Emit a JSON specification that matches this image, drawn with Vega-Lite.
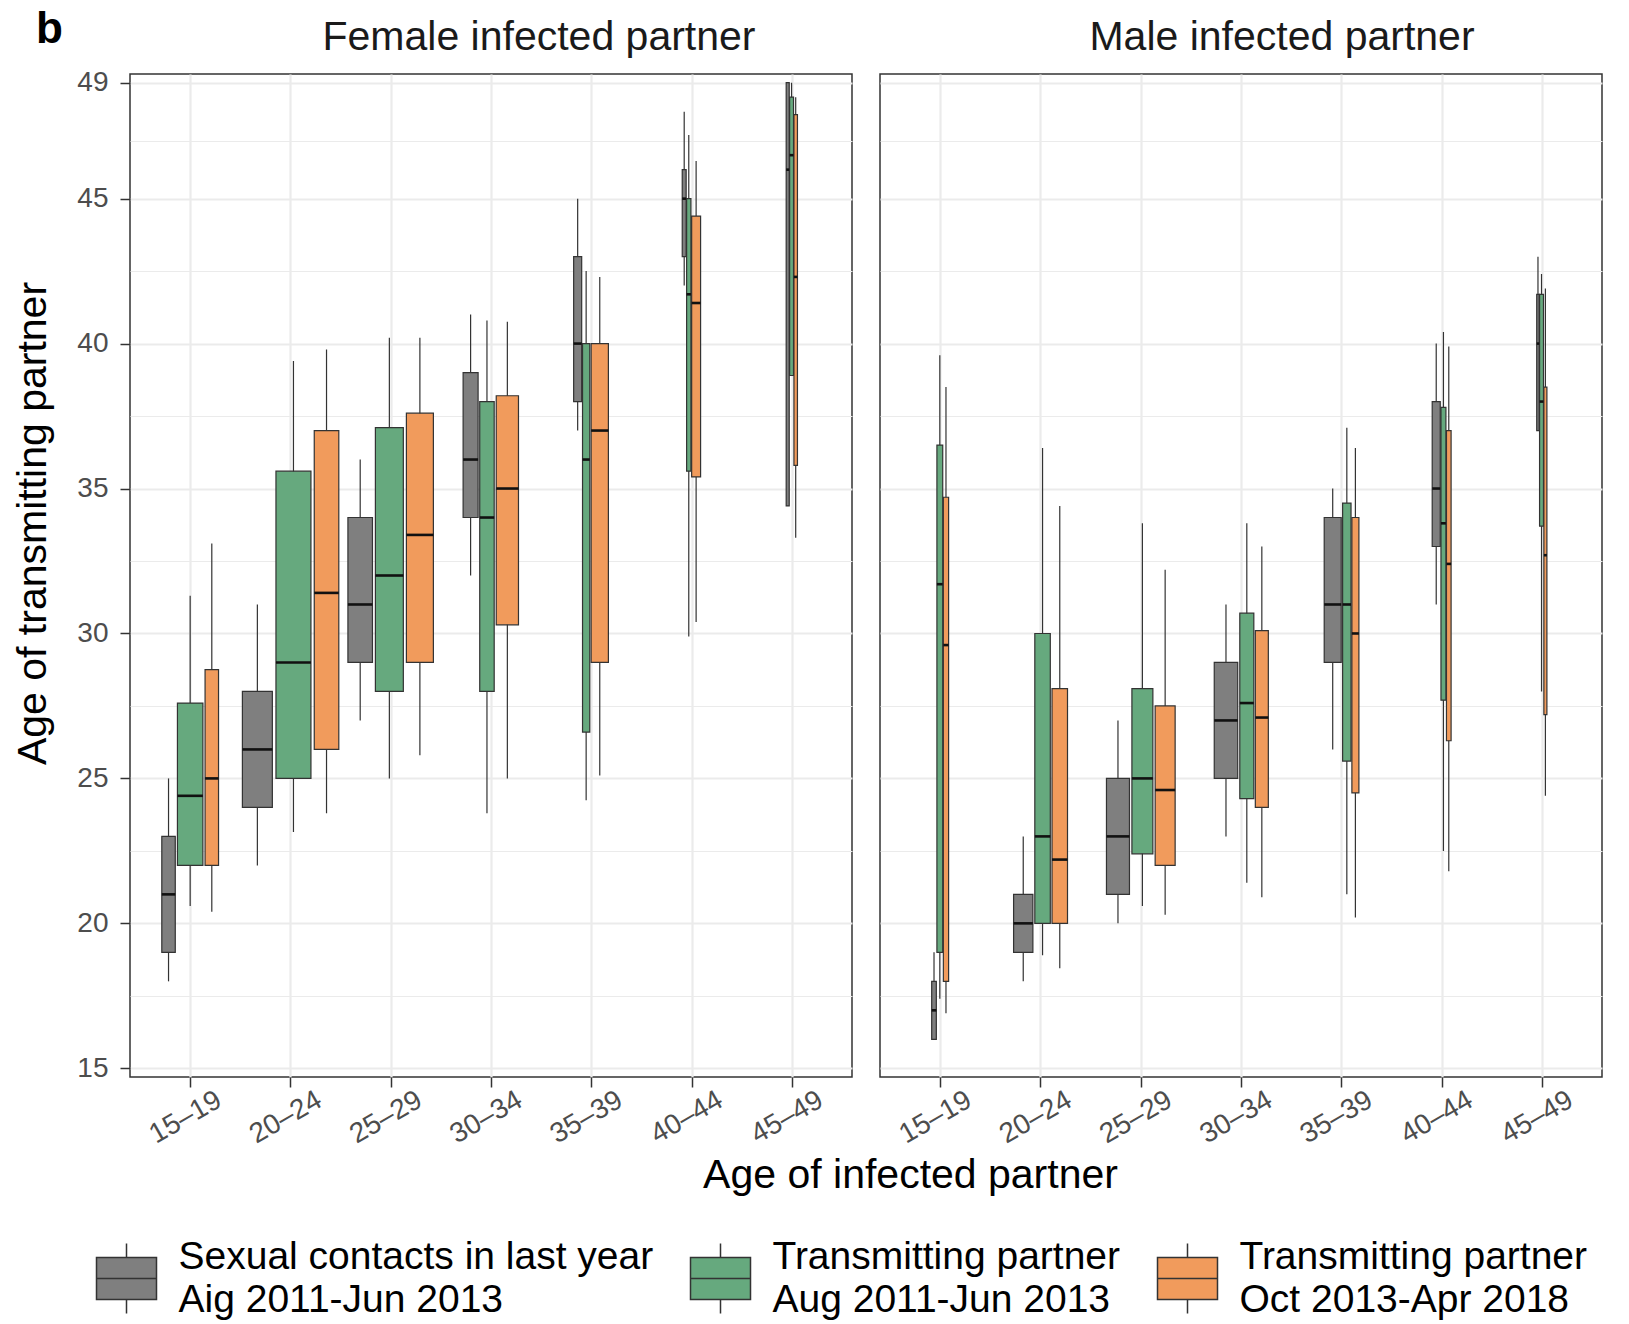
{
  "$schema": "https://vega.github.io/schema/vega-lite/v6.json",
  "padding": {"left": 12, "top": 7, "right": 5, "bottom": 2},
  "title": {"text": "b", "anchor": "start", "frame": "group", "dx": -94, "fontSize": 44, "fontWeight": "bold", "color": "#000000", "offset": -36},
  "data": {
    "values": [
      {"panel": "Female infected partner", "age": "15-19", "series": "Sexual contacts in last year\nAig 2011-Jun 2013", "n": 59, "low": 18, "q1": 19, "median": 21, "q3": 23, "high": 25},
      {"panel": "Female infected partner", "age": "15-19", "series": "Transmitting partner\nAug 2011-Jun 2013", "n": 211, "low": 20.6, "q1": 22, "median": 24.4, "q3": 27.6, "high": 31.3},
      {"panel": "Female infected partner", "age": "15-19", "series": "Transmitting partner\nOct 2013-Apr 2018", "n": 59, "low": 20.4, "q1": 22, "median": 25, "q3": 28.75, "high": 33.1},
      {"panel": "Female infected partner", "age": "20-24", "series": "Sexual contacts in last year\nAig 2011-Jun 2013", "n": 292, "low": 22, "q1": 24, "median": 26, "q3": 28, "high": 31},
      {"panel": "Female infected partner", "age": "20-24", "series": "Transmitting partner\nAug 2011-Jun 2013", "n": 398, "low": 23.15, "q1": 25, "median": 29, "q3": 35.6, "high": 39.4},
      {"panel": "Female infected partner", "age": "20-24", "series": "Transmitting partner\nOct 2013-Apr 2018", "n": 196, "low": 23.8, "q1": 26, "median": 31.4, "q3": 37, "high": 39.8},
      {"panel": "Female infected partner", "age": "25-29", "series": "Sexual contacts in last year\nAig 2011-Jun 2013", "n": 196, "low": 27, "q1": 29, "median": 31, "q3": 34, "high": 36},
      {"panel": "Female infected partner", "age": "25-29", "series": "Transmitting partner\nAug 2011-Jun 2013", "n": 254, "low": 25, "q1": 28, "median": 32, "q3": 37.1, "high": 40.2},
      {"panel": "Female infected partner", "age": "25-29", "series": "Transmitting partner\nOct 2013-Apr 2018", "n": 237, "low": 25.8, "q1": 29, "median": 33.4, "q3": 37.6, "high": 40.2},
      {"panel": "Female infected partner", "age": "30-34", "series": "Sexual contacts in last year\nAig 2011-Jun 2013", "n": 73, "low": 32, "q1": 34, "median": 36, "q3": 39, "high": 41},
      {"panel": "Female infected partner", "age": "30-34", "series": "Transmitting partner\nAug 2011-Jun 2013", "n": 68, "low": 23.8, "q1": 28, "median": 34, "q3": 38, "high": 40.8},
      {"panel": "Female infected partner", "age": "30-34", "series": "Transmitting partner\nOct 2013-Apr 2018", "n": 161, "low": 25, "q1": 30.3, "median": 35, "q3": 38.2, "high": 40.75},
      {"panel": "Female infected partner", "age": "35-39", "series": "Sexual contacts in last year\nAig 2011-Jun 2013", "n": 21, "low": 37, "q1": 38, "median": 40, "q3": 43, "high": 45},
      {"panel": "Female infected partner", "age": "35-39", "series": "Transmitting partner\nAug 2011-Jun 2013", "n": 17, "low": 24.25, "q1": 26.6, "median": 36, "q3": 40, "high": 42.5},
      {"panel": "Female infected partner", "age": "35-39", "series": "Transmitting partner\nOct 2013-Apr 2018", "n": 97, "low": 25.1, "q1": 29, "median": 37, "q3": 40, "high": 42.3},
      {"panel": "Female infected partner", "age": "40-44", "series": "Sexual contacts in last year\nAig 2011-Jun 2013", "n": 5, "low": 42, "q1": 43, "median": 45, "q3": 46, "high": 48},
      {"panel": "Female infected partner", "age": "40-44", "series": "Transmitting partner\nAug 2011-Jun 2013", "n": 6, "low": 29.9, "q1": 35.6, "median": 41.7, "q3": 45, "high": 47.2},
      {"panel": "Female infected partner", "age": "40-44", "series": "Transmitting partner\nOct 2013-Apr 2018", "n": 26, "low": 30.4, "q1": 35.4, "median": 41.4, "q3": 44.4, "high": 46.3},
      {"panel": "Female infected partner", "age": "45-49", "series": "Sexual contacts in last year\nAig 2011-Jun 2013", "n": 3, "low": 34.4, "q1": 34.4, "median": 46, "q3": 49, "high": 49},
      {"panel": "Female infected partner", "age": "45-49", "series": "Transmitting partner\nAug 2011-Jun 2013", "n": 5, "low": 38.9, "q1": 38.9, "median": 46.5, "q3": 48.5, "high": 49},
      {"panel": "Female infected partner", "age": "45-49", "series": "Transmitting partner\nOct 2013-Apr 2018", "n": 4, "low": 33.3, "q1": 35.8, "median": 42.3, "q3": 47.9, "high": 48.5},
      {"panel": "Male infected partner", "age": "15-19", "series": "Sexual contacts in last year\nAig 2011-Jun 2013", "n": 7, "low": 16, "q1": 16, "median": 17, "q3": 18, "high": 19},
      {"panel": "Male infected partner", "age": "15-19", "series": "Transmitting partner\nAug 2011-Jun 2013", "n": 11, "low": 17.4, "q1": 19, "median": 31.7, "q3": 36.5, "high": 39.6},
      {"panel": "Male infected partner", "age": "15-19", "series": "Transmitting partner\nOct 2013-Apr 2018", "n": 9, "low": 16.9, "q1": 18, "median": 29.6, "q3": 34.7, "high": 38.5},
      {"panel": "Male infected partner", "age": "20-24", "series": "Sexual contacts in last year\nAig 2011-Jun 2013", "n": 121, "low": 18, "q1": 19, "median": 20, "q3": 21, "high": 23},
      {"panel": "Male infected partner", "age": "20-24", "series": "Transmitting partner\nAug 2011-Jun 2013", "n": 78, "low": 18.9, "q1": 20, "median": 23, "q3": 30, "high": 36.4},
      {"panel": "Male infected partner", "age": "20-24", "series": "Transmitting partner\nOct 2013-Apr 2018", "n": 78, "low": 18.45, "q1": 20, "median": 22.2, "q3": 28.1, "high": 34.4},
      {"panel": "Male infected partner", "age": "25-29", "series": "Sexual contacts in last year\nAig 2011-Jun 2013", "n": 172, "low": 20, "q1": 21, "median": 23, "q3": 25, "high": 27},
      {"panel": "Male infected partner", "age": "25-29", "series": "Transmitting partner\nAug 2011-Jun 2013", "n": 143, "low": 20.6, "q1": 22.4, "median": 25, "q3": 28.1, "high": 33.8},
      {"panel": "Male infected partner", "age": "25-29", "series": "Transmitting partner\nOct 2013-Apr 2018", "n": 130, "low": 20.3, "q1": 22, "median": 24.6, "q3": 27.5, "high": 32.2},
      {"panel": "Male infected partner", "age": "30-34", "series": "Sexual contacts in last year\nAig 2011-Jun 2013", "n": 179, "low": 23, "q1": 25, "median": 27, "q3": 29, "high": 31},
      {"panel": "Male infected partner", "age": "30-34", "series": "Transmitting partner\nAug 2011-Jun 2013", "n": 64, "low": 21.4, "q1": 24.3, "median": 27.6, "q3": 30.7, "high": 33.8},
      {"panel": "Male infected partner", "age": "30-34", "series": "Transmitting partner\nOct 2013-Apr 2018", "n": 55, "low": 20.9, "q1": 24, "median": 27.1, "q3": 30.1, "high": 33},
      {"panel": "Male infected partner", "age": "35-39", "series": "Sexual contacts in last year\nAig 2011-Jun 2013", "n": 94, "low": 26, "q1": 29, "median": 31, "q3": 34, "high": 35},
      {"panel": "Male infected partner", "age": "35-39", "series": "Transmitting partner\nAug 2011-Jun 2013", "n": 23, "low": 21, "q1": 25.6, "median": 31, "q3": 34.5, "high": 37.1},
      {"panel": "Male infected partner", "age": "35-39", "series": "Transmitting partner\nOct 2013-Apr 2018", "n": 16, "low": 20.2, "q1": 24.5, "median": 30, "q3": 34, "high": 36.4},
      {"panel": "Male infected partner", "age": "40-44", "series": "Sexual contacts in last year\nAig 2011-Jun 2013", "n": 21, "low": 31, "q1": 33, "median": 35, "q3": 38, "high": 40},
      {"panel": "Male infected partner", "age": "40-44", "series": "Transmitting partner\nAug 2011-Jun 2013", "n": 8, "low": 22.5, "q1": 27.7, "median": 33.8, "q3": 37.8, "high": 40.4},
      {"panel": "Male infected partner", "age": "40-44", "series": "Transmitting partner\nOct 2013-Apr 2018", "n": 7, "low": 21.8, "q1": 26.3, "median": 32.4, "q3": 37, "high": 39.9},
      {"panel": "Male infected partner", "age": "45-49", "series": "Sexual contacts in last year\nAig 2011-Jun 2013", "n": 2, "low": 37, "q1": 37, "median": 40, "q3": 41.7, "high": 43},
      {"panel": "Male infected partner", "age": "45-49", "series": "Transmitting partner\nAug 2011-Jun 2013", "n": 5, "low": 28, "q1": 33.7, "median": 38, "q3": 41.7, "high": 42.4},
      {"panel": "Male infected partner", "age": "45-49", "series": "Transmitting partner\nOct 2013-Apr 2018", "n": 3, "low": 24.4, "q1": 27.2, "median": 32.7, "q3": 38.5, "high": 41.9}
    ]
  },
  "transform": [
    {"calculate": "indexof(['15-19','20-24','25-29','30-34','35-39','40-44','45-49'], datum.age) + 1", "as": "grp"},
    {"calculate": "0.01943 * sqrt(datum.n)", "as": "slot"},
    {"window": [{"op": "sum", "field": "slot", "as": "cum"}], "groupby": ["panel", "age"], "sort": [{"field": "series", "order": "ascending"}], "frame": [null, 0]},
    {"joinaggregate": [{"op": "sum", "field": "slot", "as": "tot"}], "groupby": ["panel", "age"]},
    {"calculate": "datum.grp - datum.tot / 2 + datum.cum - datum.slot / 2", "as": "mid"},
    {"calculate": "datum.mid - 0.45 * datum.slot", "as": "x0"},
    {"calculate": "datum.mid + 0.45 * datum.slot", "as": "x1"}
  ],
  "bounds": "flush",
  "spacing": 28,
  "resolve": {"scale": {"color": "shared"}, "legend": {"color": "shared"}},
  "hconcat": [
    {
      "title": {"text": "Female infected partner", "dx": 48, "fontSize": 41, "fontWeight": "normal", "color": "#1A1A1A", "offset": 10, "anchor": "middle"},
      "width": 722,
      "height": 1003,
      "transform": [{"filter": "datum.panel === 'Female infected partner'"}],
      "resolve": {"axis": {"y": "independent"}},
      "layer": [
        {
          "mark": {"type": "rule", "color": "#333333", "strokeWidth": 1.2},
          "encoding": {
            "x": {
              "field": "mid",
              "type": "quantitative",
              "scale": {"domain": [0.4, 7.6], "nice": false, "zero": false},
              "axis": {
                "values": [1, 2, 3, 4, 5, 6, 7],
                "labelExpr": "['15–19','20–24','25–29','30–34','35–39','40–44','45–49'][datum.value - 1]",
                "labelAngle": -30,
                "labelAlign": "center",
                "labelBaseline": "top",
                "labelPadding": 18,
                "labelOffset": -12,
                "title": "Age of infected partner",
                "titleFontSize": 41,
                "titleX": 780,
                "titleY": 110,
                "titleAlign": "center",
                "titleBaseline": "alphabetic"
              }
            },
            "y": {
              "field": "low",
              "type": "quantitative",
              "scale": {"domain": [14.7, 49.3], "nice": false, "zero": false},
              "axis": {
                "orient": "left",
                "values": [17.5, 22.5, 27.5, 32.5, 37.5, 42.5, 47],
                "grid": true,
                "gridWidth": 1.1,
                "labels": false,
                "ticks": false,
                "domain": false,
                "title": null
              }
            },
            "y2": {"field": "high"}
          }
        },
        {
          "mark": {"type": "rect", "stroke": "#333333", "strokeWidth": 1.2},
          "encoding": {
            "x": {"field": "x0", "type": "quantitative"},
            "x2": {"field": "x1"},
            "y": {
              "field": "q1",
              "type": "quantitative",
              "axis": {
                "orient": "left",
                "values": [15, 20, 25, 30, 35, 40, 45, 49],
                "grid": true,
                "title": "Age of transmitting partner",
                "titleFontSize": 41,
                "titlePadding": 22,
                "titleY": 449
              }
            },
            "y2": {"field": "q3"},
            "color": {
              "field": "series",
              "type": "nominal",
              "scale": {
                "domain": ["Sexual contacts in last year\nAig 2011-Jun 2013", "Transmitting partner\nAug 2011-Jun 2013", "Transmitting partner\nOct 2013-Apr 2018"],
                "range": ["#7F7F7F", "#66A97E", "#F19B5C"]
              },
              "legend": {
                "title": null,
                "labelExpr": "split(datum.label, '\\n')"
              }
            }
          }
        },
        {
          "mark": {"type": "rule", "color": "#111111", "strokeWidth": 2.6},
          "encoding": {
            "x": {"field": "x0", "type": "quantitative"},
            "x2": {"field": "x1"},
            "y": {"field": "median", "type": "quantitative", "axis": null}
          }
        }
      ]
    },
    {
      "title": {"text": "Male infected partner", "dx": 41, "fontSize": 41, "fontWeight": "normal", "color": "#1A1A1A", "offset": 15, "anchor": "middle"},
      "width": 722,
      "height": 1003,
      "transform": [{"filter": "datum.panel === 'Male infected partner'"}],
      "resolve": {"axis": {"y": "independent"}},
      "layer": [
        {
          "mark": {"type": "rule", "color": "#333333", "strokeWidth": 1.2},
          "encoding": {
            "x": {
              "field": "mid",
              "type": "quantitative",
              "scale": {"domain": [0.4, 7.6], "nice": false, "zero": false},
              "axis": {
                "values": [1, 2, 3, 4, 5, 6, 7],
                "labelExpr": "['15–19','20–24','25–29','30–34','35–39','40–44','45–49'][datum.value - 1]",
                "labelAngle": -30,
                "labelAlign": "center",
                "labelBaseline": "top",
                "labelPadding": 18,
                "labelOffset": -12,
                "title": null
              }
            },
            "y": {
              "field": "low",
              "type": "quantitative",
              "scale": {"domain": [14.7, 49.3], "nice": false, "zero": false},
              "axis": {
                "orient": "left",
                "values": [17.5, 22.5, 27.5, 32.5, 37.5, 42.5, 47],
                "grid": true,
                "gridWidth": 1.1,
                "labels": false,
                "ticks": false,
                "domain": false,
                "title": null
              }
            },
            "y2": {"field": "high"}
          }
        },
        {
          "mark": {"type": "rect", "stroke": "#333333", "strokeWidth": 1.2},
          "encoding": {
            "x": {"field": "x0", "type": "quantitative"},
            "x2": {"field": "x1"},
            "y": {
              "field": "q1",
              "type": "quantitative",
              "axis": {
                "orient": "left",
                "values": [15, 20, 25, 30, 35, 40, 45, 49],
                "grid": true,
                "labels": false,
                "ticks": false,
                "title": null
              }
            },
            "y2": {"field": "q3"},
            "color": {
              "field": "series",
              "type": "nominal",
              "scale": {
                "domain": ["Sexual contacts in last year\nAig 2011-Jun 2013", "Transmitting partner\nAug 2011-Jun 2013", "Transmitting partner\nOct 2013-Apr 2018"],
                "range": ["#7F7F7F", "#66A97E", "#F19B5C"]
              },
              "legend": {
                "title": null,
                "labelExpr": "split(datum.label, '\\n')"
              }
            }
          }
        },
        {
          "mark": {"type": "rule", "color": "#111111", "strokeWidth": 2.6},
          "encoding": {
            "x": {"field": "x0", "type": "quantitative"},
            "x2": {"field": "x1"},
            "y": {"field": "median", "type": "quantitative", "axis": null}
          }
        }
      ]
    }
  ],
  "config": {
    "font": "Liberation Sans",
    "view": {"stroke": "#333333", "strokeWidth": 1.5},
    "axis": {
      "gridColor": "#EBEBEB",
      "gridWidth": 2.2,
      "tickColor": "#333333",
      "tickWidth": 1.5,
      "tickSize": 10,
      "domain": false,
      "labelFontSize": 28,
      "labelColor": "#4D4D4D",
      "labelPadding": 12,
      "titleFontSize": 41,
      "titleFontWeight": "normal",
      "titleColor": "#000000"
    },
    "legend": {
      "orient": "none",
      "legendX": -34.5,
      "legendY": 1152,
      "direction": "horizontal",
      "labelFontSize": 39,
      "labelColor": "#000000",
      "labelLimit": 0,
      "labelOffset": 21,
      "columnPadding": 34,
      "symbolType": "M-1,0.017H1V1.417H-1Z M-1,0.717H1 M0,0.017V-0.453 M0,1.417V1.887",
      "symbolSize": 3600,
      "symbolStrokeColor": "#333333",
      "symbolStrokeWidth": 1.5,
      "symbolOpacity": 1
    },
    "style": {"guide-label": {"lineHeight": 43}}
  }
}
